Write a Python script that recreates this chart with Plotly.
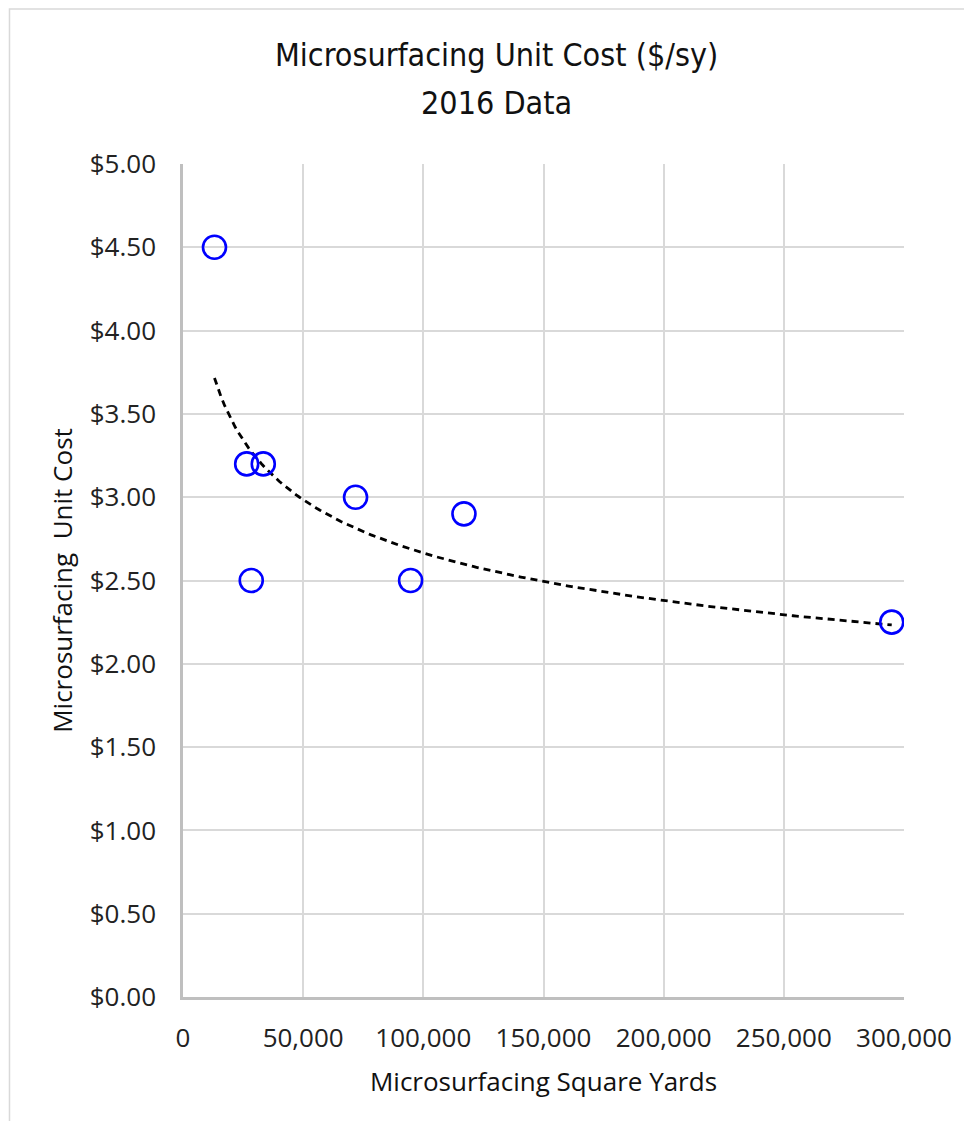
import numpy as np
import plotly.graph_objects as go

# Data
square_yards = [13100, 26500, 33400, 28400, 71800, 94700, 116900, 294900]
unit_cost = [4.50, 3.20, 3.20, 2.50, 3.00, 2.50, 2.90, 2.25]

x_tick_vals = [0, 50000, 100000, 150000, 200000, 250000, 300000]
x_tick_text = ["0", "50,000", "100,000", "150,000", "200,000", "250,000", "300,000"]
y_tick_vals = [0, 0.5, 1.0, 1.5, 2.0, 2.5, 3.0, 3.5, 4.0, 4.5, 5.0]
y_tick_text = ["$0.00", "$0.50", "$1.00", "$1.50", "$2.00", "$2.50",
               "$3.00", "$3.50", "$4.00", "$4.50", "$5.00"]

title_lines = ["Microsurfacing Unit Cost ($/sy)", "2016 Data"]
x_title = "Microsurfacing Square Yards"
y_title = "Microsurfacing  Unit Cost"

# Power trendline (as Excel) fitted from data
lx = np.log(np.array(square_yards, dtype=float))
ly = np.log(np.array(unit_cost, dtype=float))
d, c = np.polyfit(lx, ly, 1)
trend_x = np.linspace(min(square_yards), max(square_yards), 200)
trend_y = np.exp(c) * trend_x ** d

W, H = 956, 1113
L, R, T, B = 175, 898, 156, 989

fig = go.Figure()
fig.add_trace(go.Scatter(
    x=trend_x, y=trend_y, mode="lines",
    line=dict(color="black", width=2.8, dash="7px,5px"),
    hoverinfo="skip", showlegend=False,
))
fig.add_trace(go.Scatter(
    x=square_yards, y=unit_cost, mode="markers",
    marker=dict(symbol="circle-open", size=23, color="#0000ff",
                line=dict(color="#0000ff", width=2.6)),
    showlegend=False,
))

tick_font = dict(family="Open Sans, Lato, sans-serif", size=26, color="#222222")
axis_title_font = dict(family="Open Sans, Lato, sans-serif", size=26, color="#111111")
title_font = dict(family="DejaVu Sans Condensed, DejaVu Sans, sans-serif",
                  size=32, color="#111111")

title_centers = [47, 95]  # px from top of figure
annotations = [
    dict(text=t, xref="paper", yref="paper",
         x=(489 - L) / (R - L), y=(B - yc) / (B - T),
         xanchor="center", yanchor="middle", showarrow=False, font=title_font)
    for t, yc in zip(title_lines, title_centers)
]

fig.update_layout(
    width=W, height=H,
    paper_bgcolor="white", plot_bgcolor="white",
    margin=dict(l=L, r=W - R, t=T, b=H - B, pad=0),
    annotations=annotations,
    xaxis=dict(
        range=[0, 300000], tickmode="array", tickvals=x_tick_vals, ticktext=x_tick_text,
        showgrid=True, gridcolor="#d9d9d9", gridwidth=2,
        showline=True, linecolor="#bfbfbf", linewidth=2.5,
        zeroline=False, ticks="", tickfont=tick_font, ticklabelstandoff=16,
        title=dict(text=x_title, font=axis_title_font, standoff=19),
    ),
    yaxis=dict(
        range=[0, 5], tickmode="array", tickvals=y_tick_vals, ticktext=y_tick_text,
        showgrid=True, gridcolor="#d9d9d9", gridwidth=2,
        showline=True, linecolor="#bfbfbf", linewidth=2.5,
        zeroline=False, ticks="", tickfont=tick_font, ticklabelstandoff=19,
        title=dict(text=y_title, font=axis_title_font, standoff=10),
    ),
    shapes=[dict(
        type="rect", xref="paper", yref="paper",
        x0=(1 - L) / (R - L), x1=1.5,
        y0=-0.5, y1=(B - 1) / (B - T),
        line=dict(color="#d9d9d9", width=1.5), fillcolor="rgba(0,0,0,0)",
        layer="below",
    )],
)

fig.write_html("out.html")
